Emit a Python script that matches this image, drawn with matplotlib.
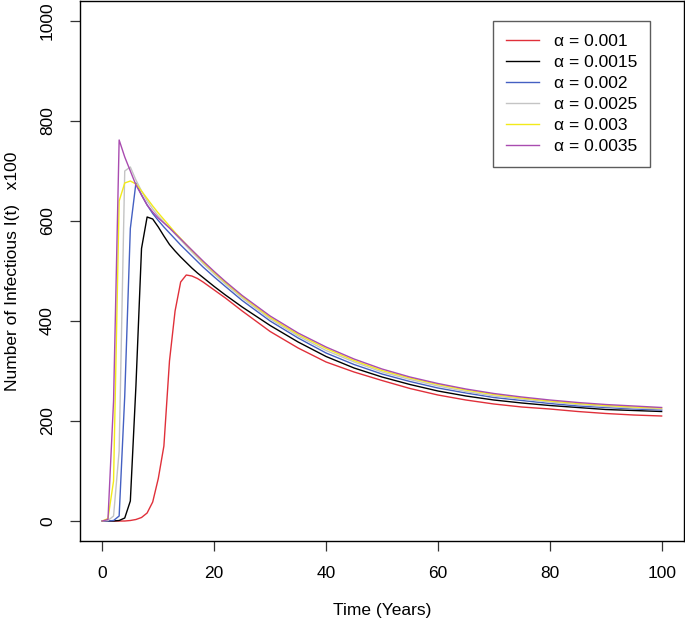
import numpy as np
import matplotlib
matplotlib.use("Agg")
import matplotlib.pyplot as plt

plt.rcParams['font.family'] = ['Liberation Sans', 'DejaVu Sans']

t = [0, 1, 2, 3, 4, 5, 6, 7, 8, 9, 10, 11, 12, 13, 14, 15, 16, 17, 18, 20,
     22, 25, 30, 35, 40, 45, 50, 55, 60, 65, 70, 75, 80, 85, 90, 95, 100]

# infectious I(t) x100, one series per alpha
i_0010 = [0, 0, 0, 0, 0, 1, 3, 7, 16, 38, 85, 150, 320, 420, 478, 492, 490,
          485, 478, 462, 446, 420, 379, 346, 318, 298, 281, 265, 252, 242,
          234, 228, 224, 219, 215, 212, 210]
i_0015 = [0, 0, 0, 1, 6, 40, 270, 545, 608, 604, 588, 570, 553, 540, 528,
          517, 506, 496, 487, 469, 452, 428, 391, 358, 329, 306, 288, 273,
          260, 250, 242, 236, 231, 227, 223, 221, 219]
i_0020 = [0, 0, 1, 10, 250, 585, 676, 652, 632, 615, 601, 588, 576, 564, 552,
          541, 530, 519, 508, 488, 469, 441, 400, 366, 336, 313, 294, 279,
          266, 256, 247, 241, 235, 230, 227, 224, 222]
i_0025 = [0, 1, 10, 140, 700, 708, 682, 660, 640, 624, 610, 598, 586, 574,
          562, 550, 538, 527, 515, 494, 474, 446, 404, 370, 341, 318, 298,
          283, 270, 259, 250, 244, 238, 233, 229, 226, 224]
i_0030 = [0, 5, 80, 640, 676, 680, 674, 660, 645, 630, 616, 603, 590, 577,
          565, 553, 541, 530, 518, 497, 477, 449, 407, 373, 345, 321, 301,
          286, 273, 262, 253, 246, 240, 235, 231, 228, 226]
i_0035 = [0, 3, 240, 762, 728, 700, 672, 652, 632, 618, 606, 596, 586, 575,
          564, 553, 542, 531, 520, 499, 479, 451, 410, 376, 348, 324, 304,
          288, 275, 264, 255, 248, 242, 237, 233, 230, 227]

labels = ["α = 0.001", "α = 0.0015", "α = 0.002", "α = 0.0025",
          "α = 0.003", "α = 0.0035"]
colors = ["#E0303A", "#000000", "#4460C2", "#C4C4C4", "#F2EA1A", "#A94CB0"]
series = [i_0010, i_0015, i_0020, i_0025, i_0030, i_0035]

fig = plt.figure(figsize=(6.85, 6.25), dpi=100)
ax = fig.add_axes([80 / 685, 84 / 625, 604 / 685, 540 / 625])

for y, c, lab in zip(series, colors, labels):
    ax.plot(t, y, color=c, lw=1.0, label=lab)

ax.set_xlim(-4, 104)
ax.set_ylim(-40, 1040)
ax.set_xticks(np.arange(0, 101, 20))
ax.set_yticks(np.arange(0, 1001, 200))
ax.tick_params(axis='both', labelsize=12.5, length=7, width=0.9,
               color='#333333')
ax.tick_params(axis='x', pad=11)
ax.tick_params(axis='y', pad=11)
for lab in ax.get_yticklabels():
    lab.set_rotation(90)
    lab.set_va('center')
for s in ax.spines.values():
    s.set_linewidth(1.0)

fig.text(382 / 685, 1 - 611 / 625, "Time (Years)", ha='center',
         va='center', fontsize=12.5)
fig.text(13 / 685, 1 - 271 / 625, "Number of Infectious I(t)   x100",
         ha='center', va='center', rotation=90, fontsize=12.5)

leg = ax.legend(loc='upper left', bbox_to_anchor=(493 / 685, 1 - 21 / 625),
                bbox_transform=fig.transFigure, fontsize=12.5,
                frameon=True, fancybox=False, handlelength=1.9,
                handletextpad=0.85, labelspacing=0.34, borderpad=0.75,
                borderaxespad=0)
leg.get_frame().set_edgecolor('#333333')
leg.get_frame().set_linewidth(1.0)

fig.savefig("out.png", dpi=100)
